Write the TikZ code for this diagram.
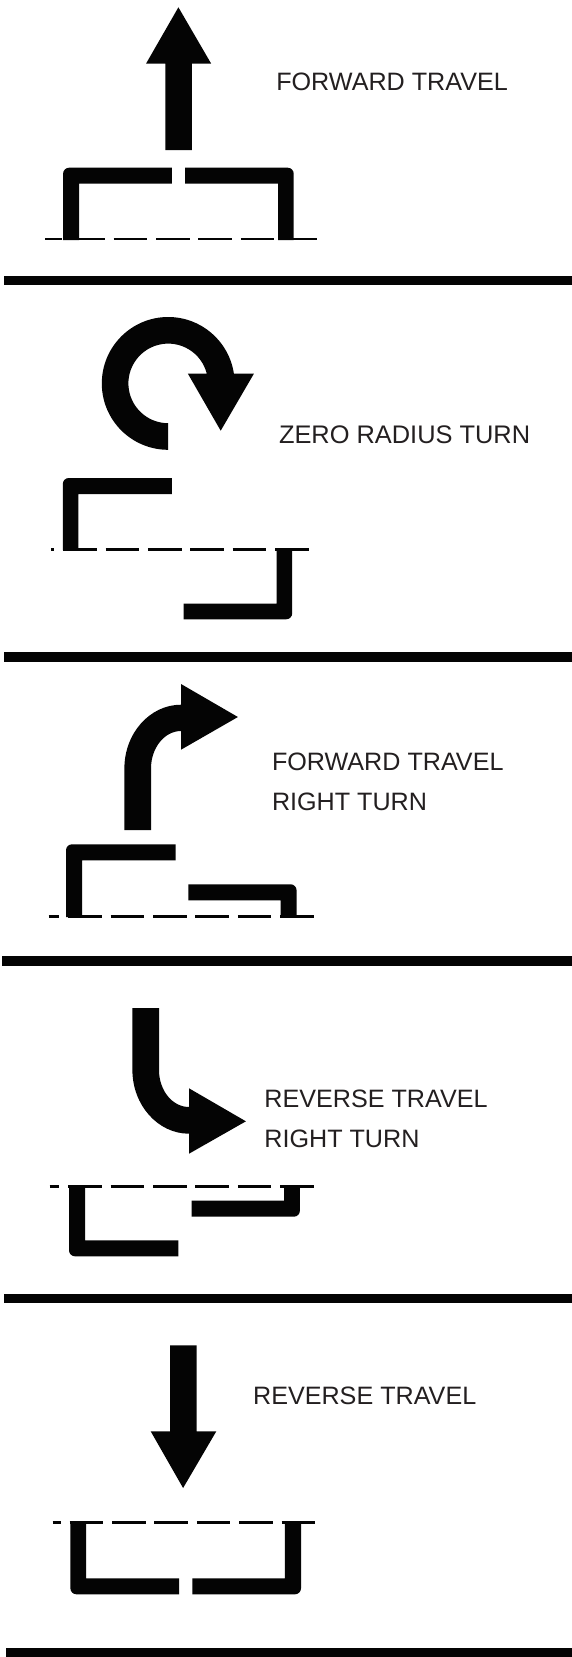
\documentclass[tikz,border=0pt]{standalone}
\usepackage{fontspec}
\setmainfont{Liberation Sans}
\definecolor{ink}{HTML}{040404}
\definecolor{txt}{HTML}{231F20}
\tikzset{
  blackshape/.style={fill=ink,draw=none},
  trackline/.style={draw=ink,line width=2.7pt,dash pattern=on 33.6pt off 8.8pt},
  label/.style={anchor=base west,inner sep=0pt,outer sep=0pt,text=txt,font=\fontsize{25.15}{30}\selectfont},
}
\begin{document}
\begin{tikzpicture}[x=1pt,y=1pt,yscale=-1]
\useasboundingbox (0,0) rectangle (572,1657);
\fill[white] (0,0) rectangle (572,1657);
% dividers
\fill[blackshape] (3.6,275.7) rectangle (572,285.3);
\fill[blackshape] (3.6,652.3) rectangle (572,662);
\fill[blackshape] (2.2,955.6) rectangle (572,965.6);
\fill[blackshape] (3.6,1293.6) rectangle (572,1303.3);
\fill[blackshape] (6.2,1647.7) rectangle (572,1657);

% panel 1
\fill[blackshape] (178.4,7.3) -- (211.2,63.7) -- (191.9,63.7) -- (191.9,150) -- (165.3,150) -- (165.3,63.7) -- (146,63.7) -- cycle;
\fill[blackshape] (63.1,240) -- (63.1,173.7) .. controls (63.1,170.4) and (65.8,167.7) .. (69.1,167.7) -- (171.8,167.7) -- (171.8,183.7) -- (79.2,183.7) -- (79.2,240) -- cycle;
\fill[blackshape] (293.7,240) -- (293.7,173.7) .. controls (293.7,170.4) and (291,167.7) .. (287.7,167.7) -- (185,167.7) -- (185,183.7) -- (278,183.7) -- (278,240) -- cycle;
\draw[trackline,dash phase=16.4pt] (45.2,239) -- (316.7,239);
\node[label] (t1) at (276.3,90.7) {FORWARD TRAVEL};

% panel 2
\fill[blackshape] (168.2,449.8) arc[start angle=90,end angle=351.6,radius=66.4pt] -- (187.9,373.7) -- (253.9,373.7) -- (220.7,430.7) -- (187.9,373.7) -- (206.8,373.7) arc[start angle=345.9,end angle=90,radius=39.8pt] -- cycle;
\fill[blackshape] (62.8,550) -- (62.8,484) .. controls (62.8,480.7) and (65.5,478) .. (68.8,478) -- (171.8,478) -- (171.8,494) -- (78.4,494) -- (78.4,550) -- cycle;
\fill[blackshape] (292.2,548.3) -- (292.2,613.3) .. controls (292.2,616.6) and (289.5,619.3) .. (286.2,619.3) -- (183.5,619.3) -- (183.5,603.7) -- (276.5,603.7) -- (276.5,548.3) -- cycle;
\draw[trackline,dash phase=30.3pt] (51,549.3) -- (309.4,549.3);
\node[label,font=\fontsize{25.4}{30}\selectfont] (t2) at (279,443.7) {ZERO RADIUS TURN};

% panel 3
\fill[blackshape] (124.4,830) -- (124.4,768.3) .. controls (124.4,733.3) and (149.9,704.7) .. (181,704.7) -- (181,684) -- (237.9,717) -- (181,749.7) -- (181,731) .. controls (164.5,731) and (151,747.9) .. (151,768.3) -- (151,830) -- cycle;
\fill[blackshape] (66,917) -- (66,850.3) .. controls (66,847) and (68.7,844.3) .. (72,844.3) -- (175.5,844.3) -- (175.5,860.3) -- (82.1,860.3) -- (82.1,917) -- cycle;
\fill[blackshape] (296.6,917) -- (296.6,890.3) .. controls (296.6,887) and (293.9,884.3) .. (290.6,884.3) -- (188.3,884.3) -- (188.3,900.3) -- (280.6,900.3) -- (280.6,917) -- cycle;
\draw[trackline,dash phase=22.7pt] (48.5,916.3) -- (314.5,916.3);
\node[label] (t3a) at (272,770) {FORWARD TRAVEL};
\node[label] (t3b) at (272,810) {RIGHT TURN};

% panel 4
\fill[blackshape] (132.4,1008) -- (132.4,1070) .. controls (132.4,1105) and (157.9,1133.7) .. (189,1133.7) -- (189,1153.7) -- (245.9,1121.3) -- (189,1088.3) -- (189,1107) .. controls (172.5,1107) and (159,1090.6) .. (159,1070) -- (159,1008) -- cycle;
\fill[blackshape] (69,1185) -- (69,1250.3) .. controls (69,1253.6) and (71.7,1256.3) .. (75,1256.3) -- (178.3,1256.3) -- (178.3,1240.3) -- (85,1240.3) -- (85,1185) -- cycle;
\fill[blackshape] (299.9,1185) -- (299.9,1210.7) .. controls (299.9,1214) and (297.2,1216.7) .. (293.9,1216.7) -- (191.5,1216.7) -- (191.5,1200.7) -- (284.2,1200.7) -- (284.2,1185) -- cycle;
\draw[trackline,dash phase=23.8pt] (49.6,1186.3) -- (314.5,1186.3);
\node[label] (t4a) at (264.4,1107.9) {REVERSE TRAVEL};
\node[label] (t4b) at (264.4,1147.7) {RIGHT TURN};

% panel 5
\fill[blackshape] (170,1345.3) -- (196.6,1345.3) -- (196.6,1431.3) -- (216.3,1431.3) -- (183.1,1488) -- (150.7,1431.3) -- (170,1431.3) -- cycle;
\fill[blackshape] (70.4,1521) -- (70.4,1588.3) .. controls (70.4,1591.6) and (73.1,1594.3) .. (76.4,1594.3) -- (179.1,1594.3) -- (179.1,1578.3) -- (86.1,1578.3) -- (86.1,1521) -- cycle;
\fill[blackshape] (301,1521) -- (301,1588.3) .. controls (301,1591.6) and (298.3,1594.3) .. (295,1594.3) -- (192.3,1594.3) -- (192.3,1578.3) -- (284.9,1578.3) -- (284.9,1521) -- cycle;
\draw[trackline,dash phase=25.3pt] (52.5,1522.3) -- (316.5,1522.3);
\node[label] (t5) at (253.1,1404) {REVERSE TRAVEL};
\end{tikzpicture}
\end{document}
